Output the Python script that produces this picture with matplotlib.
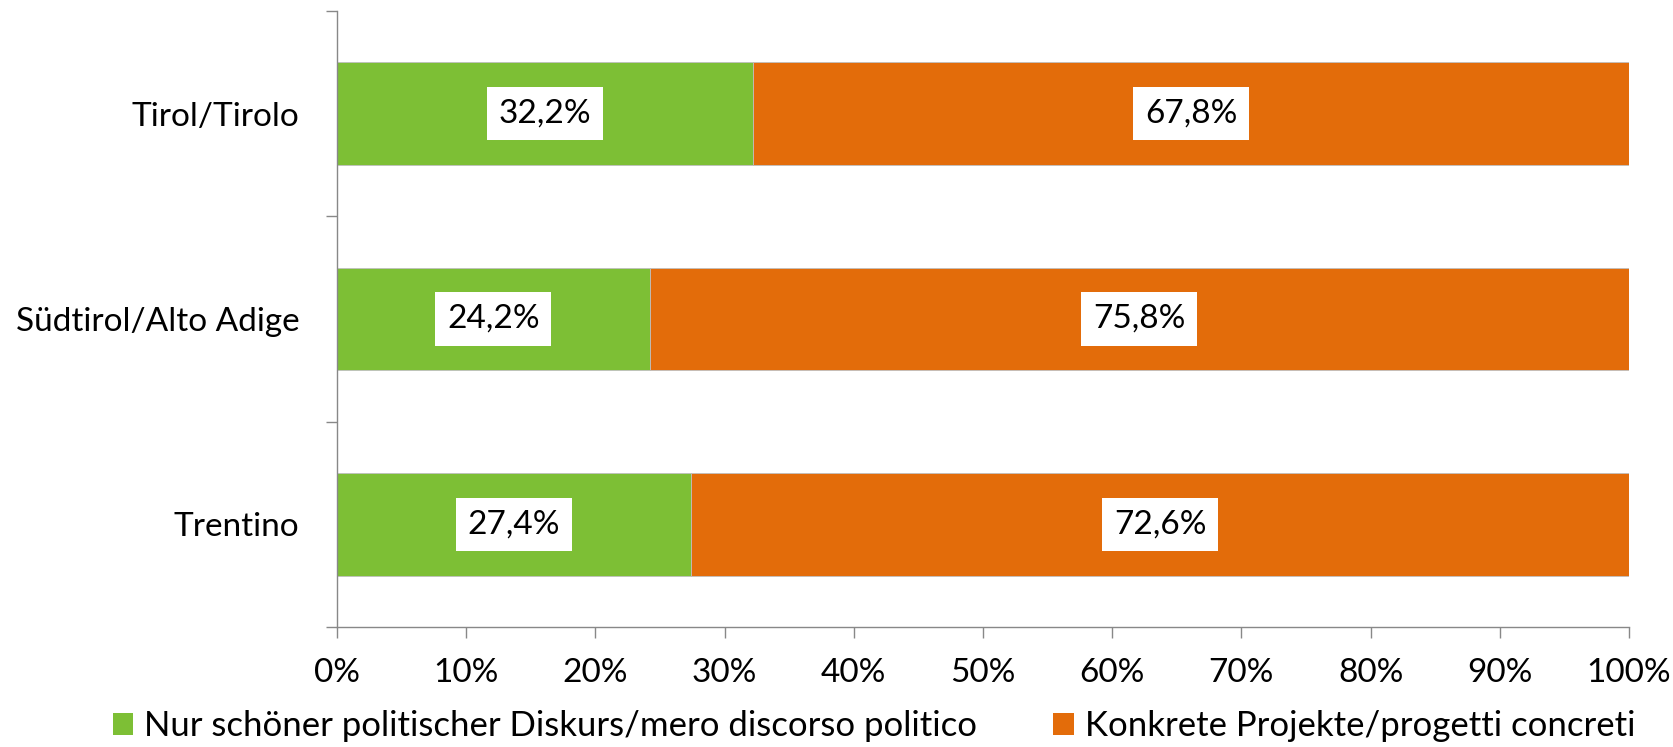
import matplotlib
matplotlib.use("Agg")
import matplotlib.pyplot as plt
from matplotlib.patches import Patch
import numpy as np

categories = ["Tirol/Tirolo", "Südtirol/Alto Adige", "Trentino"]
series_names = ["Nur schöner politischer Diskurs/mero discorso politico",
                "Konkrete Projekte/progetti concreti"]
diskurs = [32.2, 24.2, 27.4]
projekte = [67.8, 75.8, 72.6]
colors = ["#7DBF35", "#E36C0A"]
xticks = [0, 10, 20, 30, 40, 50, 60, 70, 80, 90, 100]

plt.rcParams['font.family'] = ['Lato', 'DejaVu Sans']
FS = 24

fig = plt.figure(figsize=(16.74, 7.47), dpi=100)
ax = fig.add_axes([337/1674, 1-627/747, (1629-337)/1674, (627-11)/747])

y = np.arange(len(categories))
b1 = ax.barh(y, diskurs, height=0.5, color=colors[0], edgecolor='#bfbfbf', linewidth=0.6)
b2 = ax.barh(y, projekte, left=diskurs, height=0.5, color=colors[1], edgecolor='#bfbfbf', linewidth=0.6)

fmt = lambda v: f"{v:.1f}%".replace('.', ',')
for bars, vals in ((b1, diskurs), (b2, projekte)):
    ax.bar_label(bars, labels=[fmt(v) for v in vals], label_type='center', fontsize=FS,
                 color='black', bbox=dict(boxstyle='square,pad=0.35', fc='white', ec='none'))

ax.set_xlim(0, 100)
ax.set_ylim(len(categories) - 0.5, -0.5)
ax.set_yticks(y)
ax.set_yticklabels(categories, fontsize=FS)
ax.tick_params(axis='y', which='major', length=0, pad=27)
ax.set_yticks(np.arange(-0.5, len(categories), 1.0), minor=True)
ax.tick_params(axis='y', which='minor', length=8, color='#888888', width=1)
ax.set_xticks(xticks)
ax.set_xticklabels([f"{t}%" for t in xticks], fontsize=FS)
ax.tick_params(axis='x', length=8, color='#888888', width=1, pad=14)
for s in ('top', 'right'):
    ax.spines[s].set_visible(False)
for s in ('left', 'bottom'):
    ax.spines[s].set_color('#888888')
    ax.spines[s].set_linewidth(1)

handles = [Patch(facecolor=c, edgecolor='none') for c in colors]
fig.legend(handles, series_names, loc='lower center', bbox_to_anchor=(0.522, -0.012), ncol=2,
           frameon=False, fontsize=25, handlelength=0.6, handleheight=0.6,
           handletextpad=0.3, columnspacing=2.2, borderaxespad=0.0)

fig.savefig("out.png", dpi=100, facecolor='white')
